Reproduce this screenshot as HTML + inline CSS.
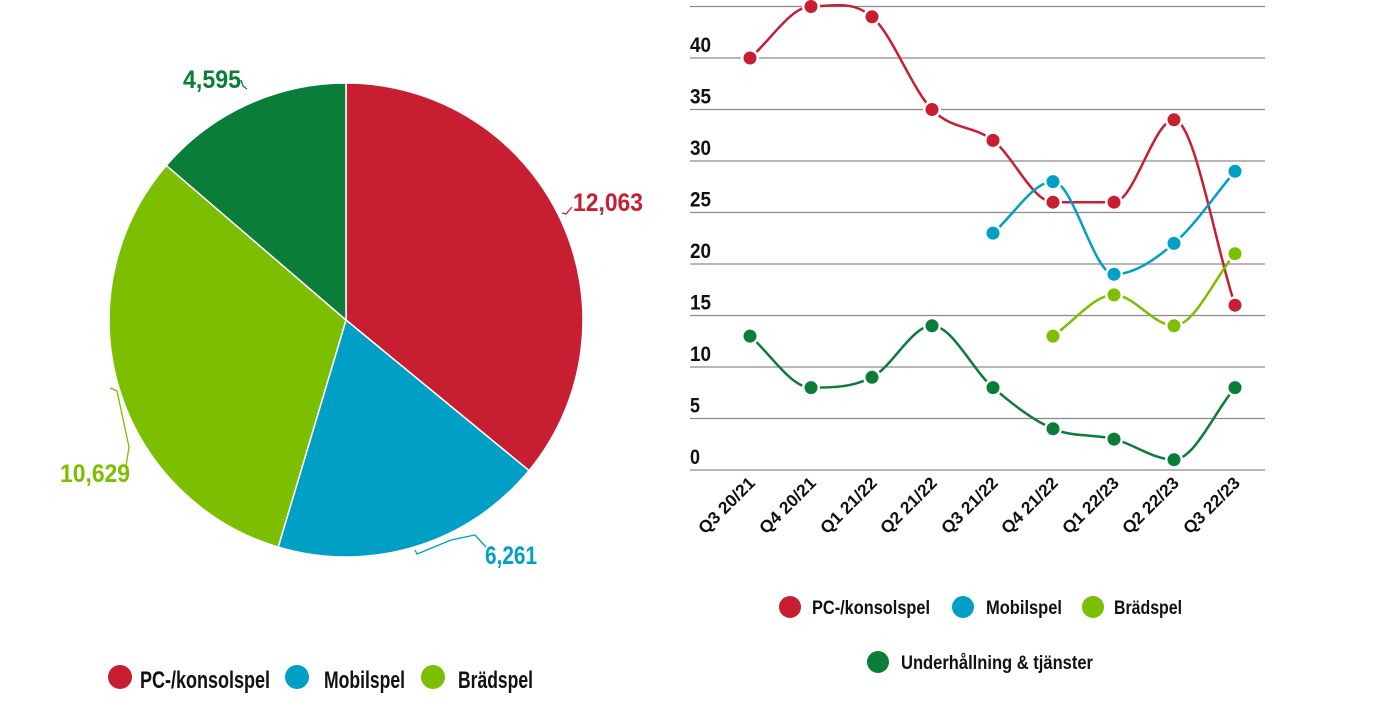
<!DOCTYPE html>
<html><head><meta charset="utf-8"><style>
body{margin:0;background:#fff;width:1380px;height:710px;overflow:hidden;font-family:"Liberation Sans Narrow","Liberation Sans",sans-serif;}
svg text{font-family:"Liberation Sans Narrow","Liberation Sans",sans-serif;}
</style></head><body>
<svg id="s" width="1380" height="710" xmlns="http://www.w3.org/2000/svg">
<g id="pie"></g>
<g font-weight="bold" font-size="25">
<text x="183" y="88" fill="#0a7d38" textLength="58" lengthAdjust="spacingAndGlyphs">4,595</text>
<text x="573" y="211" fill="#c81e32" textLength="70" lengthAdjust="spacingAndGlyphs">12,063</text>
<text x="60" y="482" fill="#7bbf00" textLength="70" lengthAdjust="spacingAndGlyphs">10,629</text>
<text x="485" y="564" fill="#00a0c6" textLength="52" lengthAdjust="spacingAndGlyphs">6,261</text>
</g>
<g fill="none" stroke-width="1.3">
<path d="M241,80 L243,86 L247,89" stroke="#0a7d38"/>
<path d="M572,207 L566,214 L562,213" stroke="#c81e32"/>
<path d="M110,388 L117,391 L129,447 L126,466" stroke="#7bbf00"/>
<path d="M415,550 L417,554 L451,540 L475,535 L486,547" stroke="#00a0c6"/>
</g>
<g id="grid"></g>
<g id="lines"></g>
<g font-size="24" fill="#111" font-weight="bold">
<circle cx="120" cy="677" r="12" fill="#c81e32"/><text x="140" y="688" textLength="130" lengthAdjust="spacingAndGlyphs">PC-/konsolspel</text>
<circle cx="297" cy="677" r="12" fill="#00a0c6"/><text x="324" y="688" textLength="81" lengthAdjust="spacingAndGlyphs">Mobilspel</text>
<circle cx="433" cy="677" r="12" fill="#7bbf00"/><text x="458" y="688" textLength="75" lengthAdjust="spacingAndGlyphs">Brädspel</text>
</g>
<g font-size="19" fill="#111" font-weight="bold">
<circle cx="790" cy="607" r="11" fill="#c81e32"/><text x="812" y="614" textLength="118" lengthAdjust="spacingAndGlyphs">PC-/konsolspel</text>
<circle cx="963" cy="607" r="11" fill="#00a0c6"/><text x="986" y="614" textLength="76" lengthAdjust="spacingAndGlyphs">Mobilspel</text>
<circle cx="1093" cy="607" r="11" fill="#7bbf00"/><text x="1114" y="614" textLength="68" lengthAdjust="spacingAndGlyphs">Brädspel</text>
<circle cx="878" cy="662" r="11" fill="#0a7d38"/><text x="901" y="669" textLength="192" lengthAdjust="spacingAndGlyphs">Underhållning &amp; tjänster</text>
</g>
</svg>
<script>
var NS="http://www.w3.org/2000/svg";
function el(p,t,a,txt){var e=document.createElementNS(NS,t);for(var k in a)e.setAttribute(k,a[k]);if(txt!=null)e.textContent=txt;document.getElementById(p).appendChild(e);return e;}
var cx=346,cy=320,r=237,vals=[12063,6261,10629,4595],cols=["#c81e32","#00a0c6","#7bbf00","#0a7d38"],tot=33548,a0=0;
vals.forEach(function(v,i){var a1=a0+v/tot*2*Math.PI;
var x0=cx+r*Math.sin(a0),y0=cy-r*Math.cos(a0),x1=cx+r*Math.sin(a1),y1=cy-r*Math.cos(a1);
el("pie","path",{d:"M"+cx+","+cy+" L"+x0+","+y0+" A"+r+","+r+" 0 "+((a1-a0)>Math.PI?1:0)+" 1 "+x1+","+y1+" Z",fill:cols[i],stroke:"#fff","stroke-width":1.5});a0=a1;});
function Y(v){return 470-v*10.3;}
for(var g=0;g<=45;g+=5){var y=Y(g);el("grid","line",{x1:690,x2:1265,y1:y,y2:y,stroke:"#8a8a8a","stroke-width":1.3});
if(g<45)el("grid","text",{x:690,y:y-6,"font-size":21,"font-weight":"bold",fill:"#111",textLength:(g<10?10:21),lengthAdjust:"spacingAndGlyphs"},String(g));}
var X=[750,811,872,932,993,1053,1114,1174,1235];
var labs=["Q3 20/21","Q4 20/21","Q1 21/22","Q2 21/22","Q3 21/22","Q4 21/22","Q1 22/23","Q2 22/23","Q3 22/23"];
labs.forEach(function(l,i){el("grid","text",{x:0,y:0,"font-size":17,"font-weight":"bold",fill:"#111","text-anchor":"end",textLength:72,lengthAdjust:"spacingAndGlyphs",transform:"translate("+(X[i]+6)+",484) rotate(-45)"},l);});
var series=[
{c:"#c81e32",s:0,v:[40,45,44,35,32,26,26,34,16]},
{c:"#00a0c6",s:4,v:[23,28,19,22,29]},
{c:"#7bbf00",s:5,v:[13,17,14,21]},
{c:"#0a7d38",s:0,v:[13,8,9,14,8,4,3,1,8]}];
series.forEach(function(S){var p=S.v.map(function(v,i){return [X[S.s+i],Y(v)];});
var n=p.length,m=[];
for(var i=0;i<n;i++){var a=p[Math.max(i-1,0)],b=p[Math.min(i+1,n-1)];
var t=(b[1]-a[1])/(b[0]-a[0]);
if(i>0&&i<n-1&&(p[i][1]-p[i-1][1])*(p[i+1][1]-p[i][1])<=0)t=0;m.push(t);}
var d="M"+p[0][0]+","+p[0][1];
for(var i=0;i<n-1;i++){var h=(p[i+1][0]-p[i][0])/3;
d+=" C"+(p[i][0]+h)+","+(p[i][1]+m[i]*h)+" "+(p[i+1][0]-h)+","+(p[i+1][1]-m[i+1]*h)+" "+p[i+1][0]+","+p[i+1][1];}
el("lines","path",{d:d,fill:"none",stroke:S.c,"stroke-width":2.5});
p.forEach(function(q){el("lines","circle",{cx:q[0],cy:q[1],r:9,fill:"#fff"});el("lines","circle",{cx:q[0],cy:q[1],r:6.5,fill:S.c});});});
</script>
</body></html>
